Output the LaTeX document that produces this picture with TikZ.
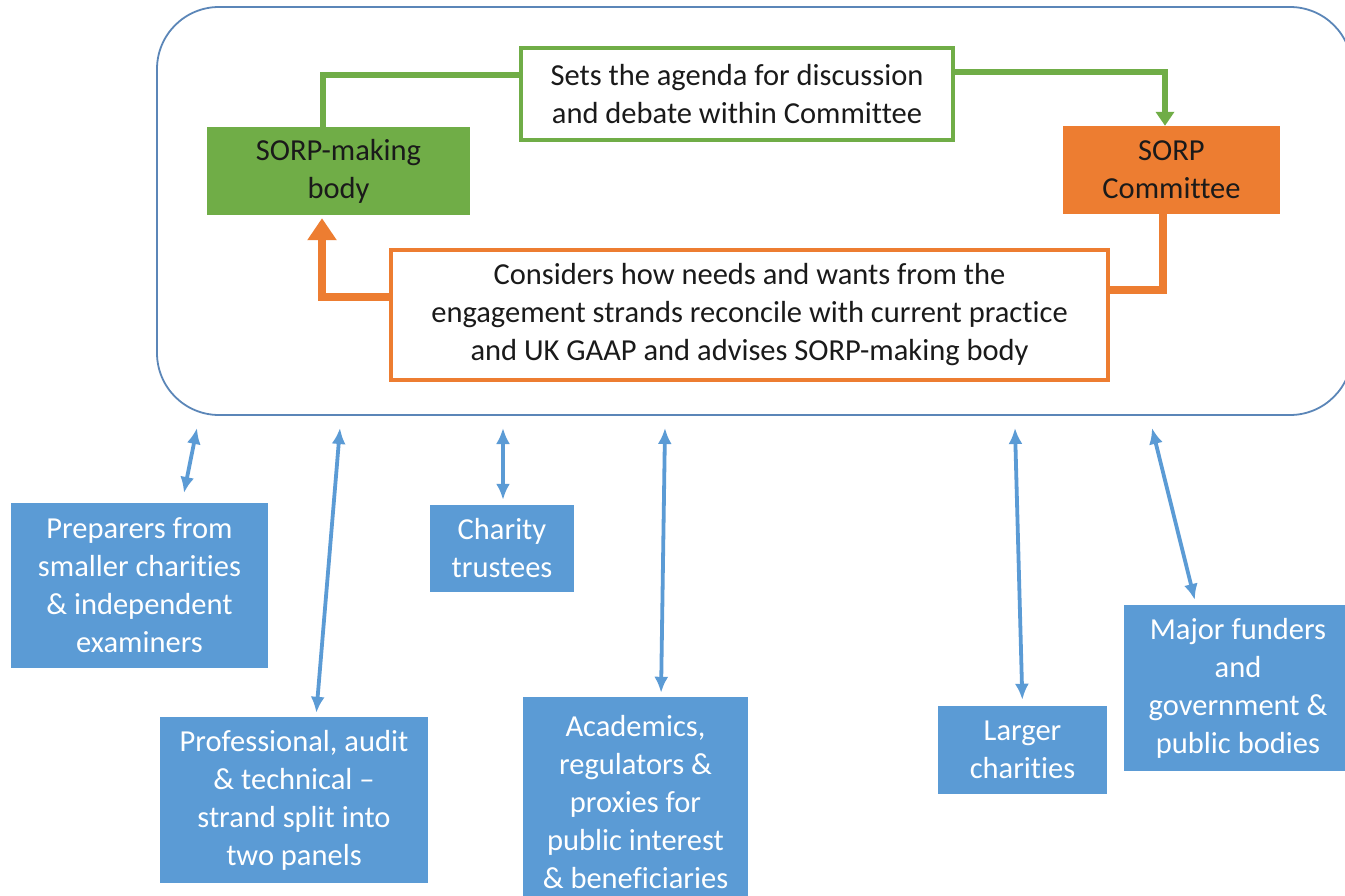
\documentclass[tikz,border=0pt]{standalone}
\usepackage{fontspec}
\setmainfont[Ligatures=NoCommon]{Carlito}
\usetikzlibrary{arrows.meta}
\definecolor{cgreen}{HTML}{70AD47}
\definecolor{corange}{HTML}{ED7D31}
\definecolor{cblue}{HTML}{5B9BD5}
\definecolor{cframe}{HTML}{5B86B8}
\definecolor{ctext}{HTML}{1A1A1A}
\begin{document}
\begin{tikzpicture}[x=1pt,y=-1pt,
  txt/.style={font=\fontsize{30.5}{38}\selectfont, align=center, inner sep=0pt, text=ctext},
  greenbox/.style={txt, fill=cgreen},
  orangebox/.style={txt, fill=corange},
  gframe/.style={txt, draw=cgreen, line width=4pt, fill=white},
  oframe/.style={txt, draw=corange, line width=4pt, fill=white},
  bluebox/.style={txt, fill=cblue, text=white},
  gline/.style={draw=cgreen, line width=6pt},
  oline/.style={draw=corange, line width=8pt},
  barrow/.style={draw=cblue, line width=3.8pt, {Latex[length=16pt,width=14pt]}-{Latex[length=16pt,width=14pt]}}
]
\useasboundingbox (0,0) rectangle (1345,896);
\clip (0,0) rectangle (1345,896);
\fill[white] (0,0) rectangle (1345,896);

% outer frame
\node[draw=cframe, line width=1.8pt, rounded corners=62pt, minimum width=1195pt, minimum height=408pt, inner sep=0pt] (frame) at (754.5,211) {};

% main nodes
\node[greenbox, minimum width=263pt, minimum height=88pt] (smb) at (338.5,171) {SORP-making\\body};
\node[orangebox, minimum width=217pt, minimum height=88pt] (com) at (1171.5,170) {SORP\\Committee};
\node[gframe, minimum width=432pt, minimum height=92pt] (agenda) at (737,94) {Sets the agenda for discussion\\and debate within Committee};
\node[oframe, minimum width=717pt, minimum height=130pt] (cons) at (749.5,315) {Considers how needs and wants from the\\engagement strands reconcile with current practice\\and UK GAAP and advises SORP-making body};

% cycle connectors
\draw[gline] ([xshift=-15.5pt]smb.north) |- ([yshift=19pt]agenda.west);
\draw[gline, -{Triangle[length=14pt,width=18pt]}] ([yshift=22pt]agenda.east) -| ([xshift=-6.5pt]com.north);
\draw[oline] ([xshift=-8.5pt]com.south) |- ([yshift=25pt]cons.east);
\draw[oline, -{Triangle[length=22pt,width=28pt]}] ([yshift=18pt]cons.west) -| ([xshift=-16.5pt,yshift=-3pt]smb.south);

% engagement strands
\node[bluebox, minimum width=257pt, minimum height=165pt] (b1) at (139.5,585.5) {Preparers from\\smaller charities\\\& independent\\examiners};
\node[bluebox, minimum width=268pt, minimum height=166pt] (b2) at (294,800) {Professional, audit\\\& technical --\\strand split into\\two panels};
\node[bluebox, minimum width=144pt, minimum height=87pt] (b3) at (502,548.5) {Charity\\trustees};
\node[bluebox, minimum width=225pt, minimum height=210pt] (b4) at (635.5,802) {Academics,\\regulators \&\\proxies for\\public interest\\\& beneficiaries};
\node[bluebox, minimum width=169pt, minimum height=88pt] (b5) at (1022.5,750) {Larger\\charities};
\node[bluebox, minimum width=228pt, minimum height=166pt] (b6) at (1238,688) {Major funders\\and\\government \&\\public bodies};

% free upper ends below the frame
\coordinate (t1) at (197,428);
\coordinate (t2) at (340,428);
\coordinate (t3) at (503,428);
\coordinate (t4) at (665,428);
\coordinate (t5) at (1015,428);
\coordinate (t6) at (1152,428);

\draw[barrow, shorten >=10pt] (t1) -- ([xshift=42.5pt]b1.north);
\draw[barrow, shorten >=4pt] (t2) -- ([xshift=22pt]b2.north);
\draw[barrow, shorten >=5pt] (t3) -- ([xshift=1pt]b3.north);
\draw[barrow, shorten >=4pt] (t4) -- ([xshift=25.5pt]b4.north);
\draw[barrow, shorten >=6pt] (t5) -- (b5.north);
\draw[barrow, shorten >=5pt] (t6) -- ([xshift=-42pt]b6.north);
\end{tikzpicture}
\end{document}
